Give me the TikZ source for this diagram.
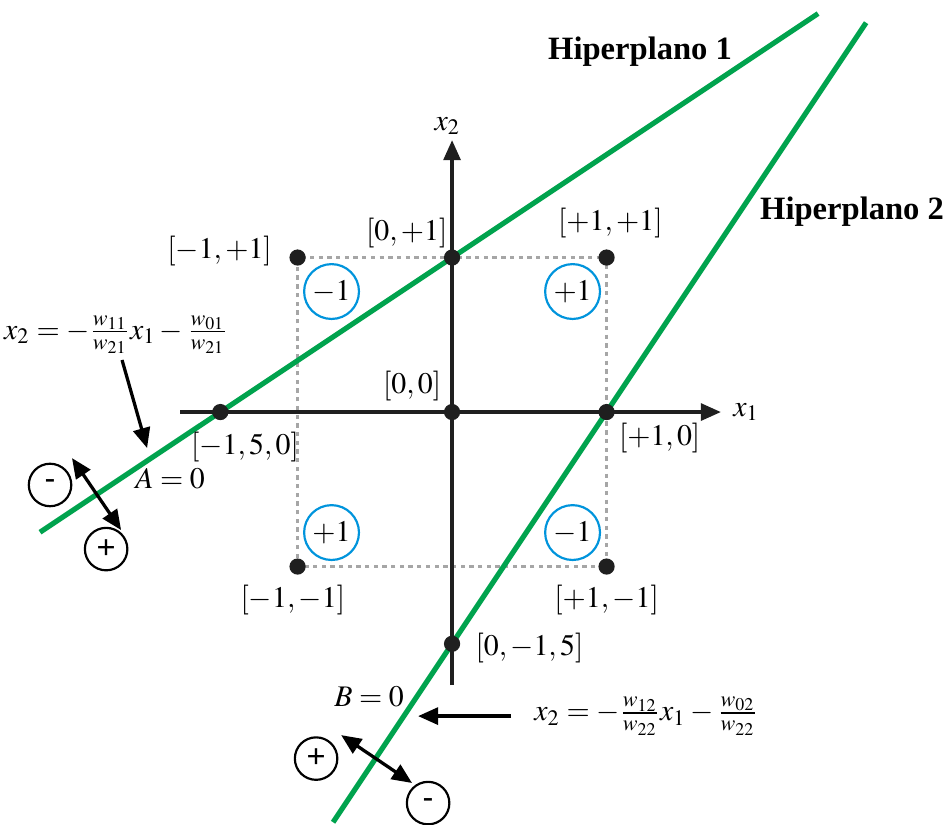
\documentclass[tikz,border=0pt]{standalone}
\usepackage{mathptmx}
\usepackage{fontspec}
\setmainfont{Liberation Serif}
\newfontfamily\signfont{Liberation Sans}
\usetikzlibrary{positioning,arrows.meta}
\definecolor{hgreen}{RGB}{0,163,78}
\definecolor{cblue}{RGB}{0,148,220}

\begin{document}
\begin{tikzpicture}[x=2cm,y=2cm,>={Triangle[length=2.6mm,width=2.2mm]},
   dot/.style={circle,fill=black!88,minimum size=2.1mm,inner sep=0pt},
   lbl/.style={font=\fontsize{11}{13}\selectfont,inner sep=1pt},
   cls/.style={circle,draw=cblue,line width=0.8pt,minimum size=7.1mm,inner sep=0pt,font=\fontsize{11}{13}\selectfont},
   sgn/.style={circle,draw,line width=0.8pt,minimum size=5.5mm,inner sep=0pt,font=\signfont\fontsize{12}{14}\selectfont},
   hyp/.style={hgreen,line width=1.9pt},
   axis/.style={->,line width=1.2pt,black!88}]
 \useasboundingbox (-2.926,-2.667) rectangle (3.197,2.667);
 % the four inputs
 \draw[black!35,line width=1.2pt,dash pattern=on 1.6pt off 1.6pt] (-1,-1) rectangle (1,1);
 % axes
 \coordinate (xs) at (-1.76,0);
 \coordinate (xe) at (1.74,0);
 \coordinate (ys) at (0,-1.767);
 \coordinate (ye) at (0,1.76);
 \draw[axis] (xs) -- (xe);
 \draw[axis] (ys) -- (ye);
 \node[lbl] (x1) [right=1.2mm of xe] {$x_1$};
 \node[lbl] (x2) [above left=0.3mm and -1.5mm of ye] {$x_2$};
 % hyperplanes
 \coordinate (h1a) at (-2.667,-0.778);
 \coordinate (h1b) at (2.369,2.579);
 \coordinate (h2a) at (-0.770,-2.655);
 \coordinate (h2b) at (2.68,2.52);
 \draw[hyp] (h1a) -- (h1b);
 \draw[hyp] (h2a) -- (h2b);
 \node[font=\bfseries\fontsize{12}{14}\selectfont] (hp1) at (1.217,2.33) {Hiperplano 1};
 \node[font=\bfseries\fontsize{12}{14}\selectfont] (hp2) at (2.589,1.294) {Hiperplano 2};
 % points
 \node[dot] (pmp) at (-1,1) {};
 \node[dot] (pzp) at (0,1) {};
 \node[dot] (ppp) at (1,1) {};
 \node[dot] (pmz) at (-1.5,0) {};
 \node[dot] (pzz) at (0,0) {};
 \node[dot] (ppz) at (1,0) {};
 \node[dot] (pmm) at (-1,-1) {};
 \node[dot] (ppm) at (1,-1) {};
 \node[dot] (pzm) at (0,-1.5) {};
 \node[lbl] (lmp) [left=1.8mm of pmp,yshift=0.9mm] {$[-1,+1]$};
 \node[lbl] (lzp) [above left=0mm and -0.6mm of pzp] {$[0,+1]$};
 \node[lbl] (lpp) [above=1mm of ppp,xshift=0.5mm] {$[+1,+1]$};
 \node[lbl] (lmz) [below=1.1mm of pmz,xshift=3.2mm] {$[-1,5,0]$};
 \node[lbl] (lzz) [above left=0.2mm and 0.2mm of pzz] {$[0,0]$};
 \node[lbl] (lpz) [below right=0.2mm and 0.4mm of ppz] {$[+1,0]$};
 \node[lbl] (lmm) [below=0.8mm of pmm,xshift=-0.6mm] {$[-1,-1]$};
 \node[lbl] (lpm) [below=0.8mm of ppm] {$[+1,-1]$};
 \node[lbl] (lzm) [right=1.5mm of pzm,yshift=-0.6mm] {$[0,-1,5]$};
 % classes
 \node[cls] (cmp) at (-0.78,0.78) {$-1$};
 \node[cls] (cpp) at (0.78,0.78) {$+1$};
 \node[cls] (cmm) at (-0.78,-0.78) {$+1$};
 \node[cls] (cpm) at (0.78,-0.78) {$-1$};
 % hyperplane 1 notes
 \node[lbl] (eqa) at (-2.175,0.50) {$x_2=-\frac{w_{11}}{w_{21}}x_1-\frac{w_{01}}{w_{21}}$};
 \coordinate (eqat) at (-1.974,-0.233);
 \draw[->,line width=1.2pt] (-2.136,0.337) -- (eqat);
 \node[lbl] (aeq) at (-1.825,-0.434) {$A=0$};
 \node[sgn] (am) at (-2.602,-0.472) {-};
 \node[sgn] (ap) at (-2.239,-0.887) {+};
 \coordinate (aa) at (-2.460,-0.298);
 \coordinate (ab) at (-2.142,-0.764);
 \draw[<->,line width=1.2pt] (aa) -- (ab);
 % hyperplane 2 notes
 \node[lbl] (eqb) at (1.256,-1.968) {$x_2=-\frac{w_{12}}{w_{22}}x_1-\frac{w_{02}}{w_{22}}$};
 \coordinate (eqbs) at (0.382,-1.968);
 \coordinate (eqbt) at (-0.220,-1.968);
 \draw[->,line width=1.2pt] (eqbs) -- (eqbt);
 \node[lbl] (beq) at (-0.537,-1.845) {$B=0$};
 \node[sgn] (bp) at (-0.880,-2.243) {+};
 \node[sgn] (bm) at (-0.155,-2.531) {-};
 \coordinate (ba) at (-0.718,-2.091);
 \coordinate (bb) at (-0.259,-2.401);
 \draw[<->,line width=1.2pt] (ba) -- (bb);
\end{tikzpicture}
\end{document}
